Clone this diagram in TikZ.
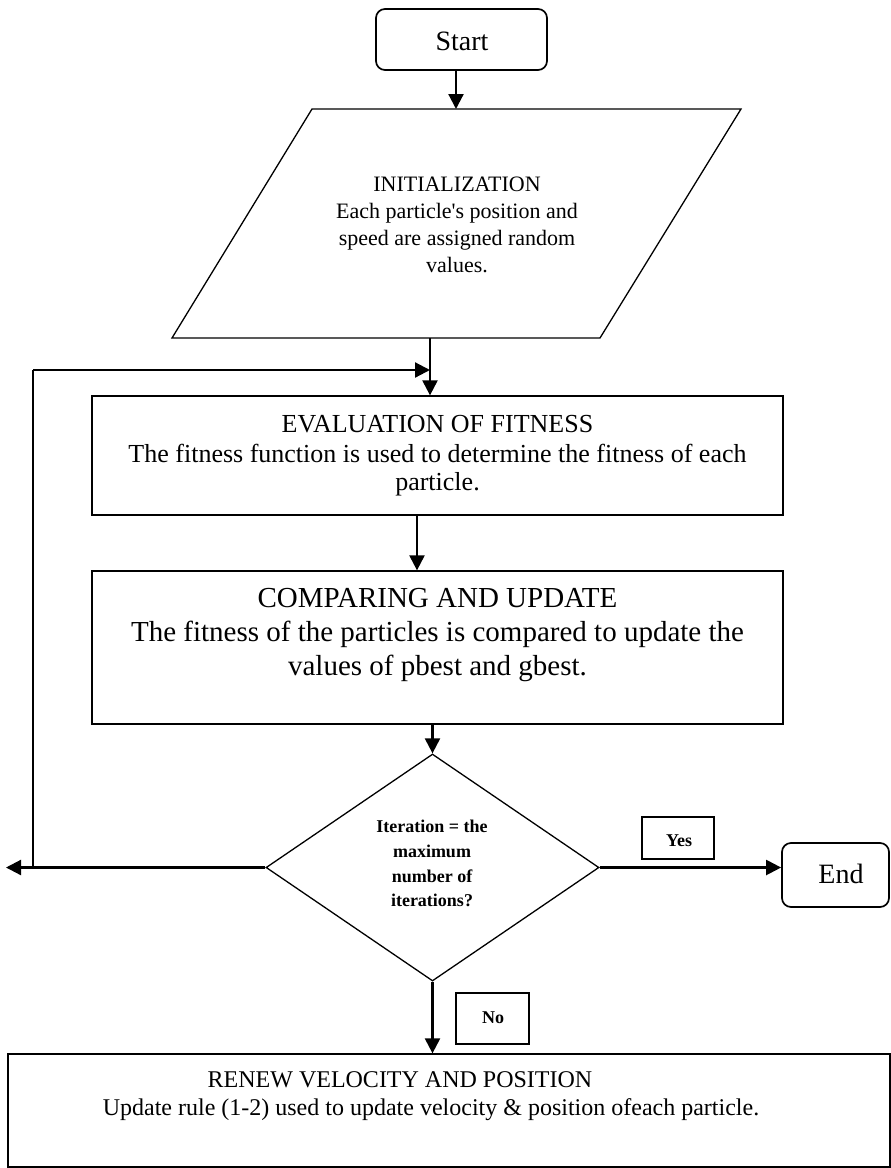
\documentclass[tikz,border=0pt]{standalone}
\usepackage{fontspec}
\setmainfont{Liberation Serif}
\usetikzlibrary{arrows.meta,shapes.geometric}
\begin{document}
\begin{tikzpicture}[x=1pt,y=-1pt,
  box/.style={draw,line width=1.3pt,inner sep=0pt},
  lblbox/.style={draw,line width=1.5pt,inner sep=0pt},
  rbox/.style={draw,line width=1.7pt,rounded corners=9pt,inner sep=0pt},
  arr/.style={line width=2.2pt,-{Triangle[length=15pt,width=15pt]}},
  ln/.style={line width=2.2pt},
  txt/.style={anchor=base,inner sep=0pt},
  fa/.style={txt,font=\fontsize{22}{27}\selectfont},
  fb/.style={txt,font=\fontsize{26}{29}\selectfont},
  fc/.style={txt,font=\fontsize{29}{34}\selectfont},
  fd/.style={txt,font=\fontsize{24}{28}\selectfont},
  fe/.style={txt,font=\bfseries\fontsize{18}{24}\selectfont},
  ff/.style={txt,font=\fontsize{28}{32}\selectfont}
]
\useasboundingbox (0,0) rectangle (891,1168);

% Start
\node[rbox,minimum width=171pt,minimum height=61pt] (start) at (461.5,39.5) {};
\node[ff] (starttxt) at (462,50) {Start};

% Initialization parallelogram
\coordinate (p1) at (312,109);
\coordinate (p2) at (741,109);
\coordinate (p3) at (600,338);
\coordinate (p4) at (172,338);
\draw[line width=1.3pt] (p1) -- (p2) -- (p3) -- (p4) -- cycle;
\coordinate (ptop) at (456,109);
\coordinate (pbot) at (430,338);
\node[fa] (i1) at (457,191) {INITIALIZATION};
\node[fa] (i2) at (457,218) {Each particle\textquotesingle s position and};
\node[fa] (i3) at (457,245) {speed are assigned random};
\node[fa] (i4) at (457,272) {values.};
\draw[arr] (start.south -| ptop) -- (ptop);

% Evaluation
\node[box,minimum width=691pt,minimum height=119pt] (eval) at (437.5,455.5) {};
\node[fb] (e1) at (437.5,432) {EVALUATION OF FITNESS};
\node[fb] (e2) at (437.5,462) {The fitness function is used to determine the fitness of each};
\node[fb] (e3) at (437.5,490) {particle.};
\draw[arr] (pbot) -- (pbot |- eval.north);

% Comparing
\node[box,minimum width=691pt,minimum height=153pt] (comp) at (437.5,647.5) {};
\node[fc] (c1) at (437.5,607) {COMPARING AND UPDATE};
\node[fc] (c2) at (437.5,641) {The fitness of the particles is compared to update the};
\node[fc] (c3) at (437.5,675) {values of pbest and gbest.};
\coordinate (ec) at (417,0);
\draw[arr] (eval.south -| ec) -- (comp.north -| ec);

% Decision
\node[draw,line width=1.3pt,shape=diamond,aspect=1.467,inner sep=0pt,
      minimum width=333pt,minimum height=227pt] (dia) at (432.5,867.5) {};
\node[fe] (d1) at (432,832) {Iteration = the};
\node[fe] (d2) at (432,857) {maximum};
\node[fe] (d3) at (432,882) {number of};
\node[fe] (d4) at (432,906) {iterations?};
\draw[arr] (comp.south -| dia.north) -- (dia.north);

% Loop back
\coordinate (lt) at (33,370);
\coordinate (lb) at (33,867.5);
\coordinate (lj) at (430,370);
\coordinate (ltip) at (6,867.5);
\draw[arr] (dia.west) -- (ltip);
\draw[ln] (lb) -- (lt);
\draw[arr] (lt) -- (lj);

% End
\node[rbox,minimum width=107pt,minimum height=64pt] (end) at (835.5,875) {};
\node[ff] (endtxt) at (841,883) {End};
\draw[arr] (dia.east) -- (end.west |- dia.east);
\node[lblbox,minimum width=72pt,minimum height=42pt] (yes) at (678,838) {};
\node[fe] (yestxt) at (679,846) {Yes};

% Renew
\node[box,minimum width=882pt,minimum height=113pt] (renew) at (449,1110.5) {};
\node[fd] (r1) at (400,1087) {RENEW VELOCITY AND POSITION};
\node[fd] (r2) at (431,1115) {Update rule (1-2) used to update velocity \& position ofeach particle.};
\draw[arr] (dia.south) -- (dia.south |- renew.north);
\node[lblbox,minimum width=73pt,minimum height=51pt] (no) at (492.5,1018.5) {};
\node[fe] (notxt) at (493,1023) {No};
\end{tikzpicture}
\end{document}
